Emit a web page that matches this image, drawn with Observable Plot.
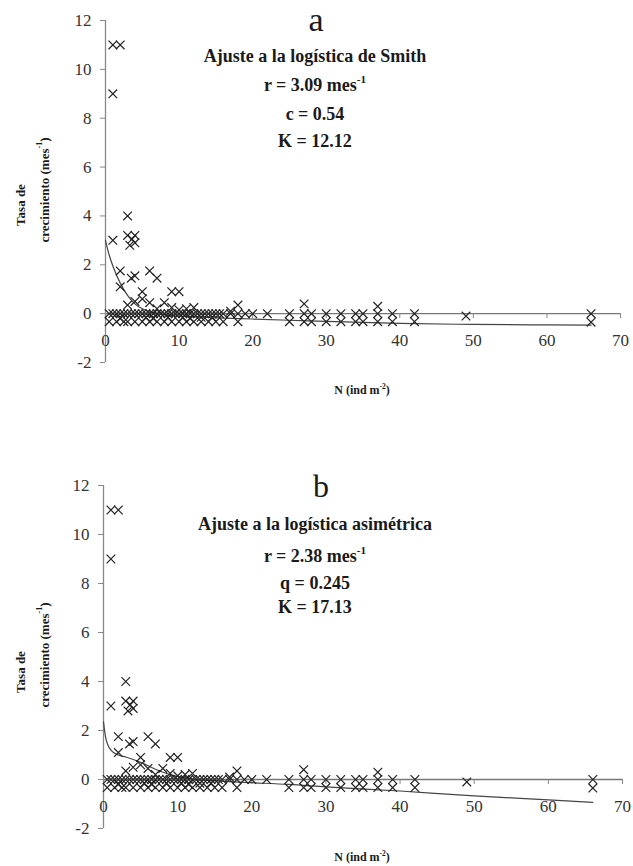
<!DOCTYPE html>
<html><head><meta charset="utf-8">
<script src="https://cdn.jsdelivr.net/npm/d3@7"></script>
<script src="https://cdn.jsdelivr.net/npm/@observablehq/plot@0.6"></script>
<style>
body{margin:0;background:#fff;width:633px;}
#chart svg{display:block;}
#chart svg text{font-family:"Liberation Serif","DejaVu Serif","Times New Roman",serif;}
</style>
</head><body><div id="chart"></div>
<script>
// Observed points: density N (ind m^-2) and growth rate (mes^-1)
const density = [
  1, 2, 1, 1, 3, 3, 4, 3.3, 4, 3.6,
  2, 2, 3.5, 4, 6, 7, 5, 9, 10,
  3, 4, 5, 6, 8, 9, 12, 10, 18, 17, 27, 37, 11, 7,
  0.5, 1, 1.5, 2, 2.5, 3, 3.5, 4, 4.5, 5, 5.5, 6, 6.5, 7, 7.5, 8, 8.5, 9, 9.5, 10, 10.5, 11, 11.5, 12, 12.5, 13, 13.5, 14, 14.5, 15, 15.5, 16, 17, 18, 19, 20, 22, 25, 27, 28, 30, 32, 34, 35, 37, 39, 42, 66,
  0.5, 1.5, 2.5, 3, 4, 5, 6, 7, 8, 9, 10, 11, 12, 13, 14, 15, 16, 18, 25, 27, 28, 30, 32, 34, 35, 37, 39, 42, 66,
  49, 5.5, 10.5, 13, 2, 6.5, 8.5, 11.5, 14.5
];
const rate = [
  11, 11, 9, 3, 4, 3.2, 3.2, 2.8, 2.9, 3.05,
  1.75, 1.1, 1.45, 1.55, 1.75, 1.45, 0.9, 0.9, 0.9,
  0.35, 0.5, 0.6, 0.45, 0.45, 0.25, 0.25, 0.15, 0.35, 0.1, 0.4, 0.3, 0.2, 0.2,
  0, 0, 0, 0, 0, 0, 0, 0, 0, 0, 0, 0, 0, 0, 0, 0, 0, 0, 0, 0, 0, 0, 0, 0, 0, 0, 0, 0, 0, 0, 0, 0, 0, 0, 0, 0, 0, 0, 0, 0, 0, 0, 0, 0, 0, 0, 0, 0,
  -0.33, -0.33, -0.33, -0.33, -0.33, -0.33, -0.33, -0.33, -0.33, -0.33, -0.33, -0.33, -0.33, -0.33, -0.33, -0.33, -0.33, -0.33, -0.33, -0.33, -0.33, -0.33, -0.33, -0.33, -0.33, -0.33, -0.33, -0.33, -0.35,
  -0.1, -0.15, -0.15, -0.15, -0.2, -0.2, -0.15, -0.2, -0.15
];

// Fitted curve a: Smith logistic
const fitA_N = [0, 0.5, 1, 2, 3, 4, 5, 6, 8, 10, 15, 20, 25, 30, 40, 50, 60, 66];
const fitA_R = [3.0, 2.4, 1.95, 1.25, 0.75, 0.4, 0.2, 0.07, -0.05, -0.1, -0.17, -0.22, -0.27, -0.32, -0.4, -0.44, -0.46, -0.47];

// Fitted curve b: asymmetric logistic
const fitB_N = [0, 0.3, 1, 2, 3, 5, 7, 9, 12, 15, 20, 25, 30, 40, 50, 60, 66];
const fitB_R = [2.35, 1.7, 1.2, 1.0, 0.92, 0.7, 0.42, 0.2, 0.02, -0.06, -0.13, -0.2, -0.3, -0.47, -0.67, -0.83, -0.93];

const xTicks = [0, 10, 20, 30, 40, 50, 60, 70];
const yTicks = [-2, 0, 2, 4, 6, 8, 10, 12];

function addText(svg, x, y, parts, opts = {}) {
  const size = opts.size || 16;
  const t = d3.select(svg).append("text")
    .attr("x", x).attr("y", y)
    .attr("text-anchor", opts.anchor || "middle")
    .attr("font-size", size)
    .attr("font-weight", opts.weight || "bold")
    .attr("fill", opts.fill || "#1a1a1a");
  if (opts.rotate) t.attr("transform", `rotate(-90 ${x} ${y})`).attr("dominant-baseline", "middle");
  let shifted = false;
  parts.forEach(p => {
    const s = t.append("tspan").text(p.t);
    if (p.sup) { s.attr("font-size", size * 0.62).attr("dy", -size * 0.45); shifted = true; }
    else if (shifted) { s.attr("dy", size * 0.45); shifted = false; }
  });
}

function panel(cfg) {
  const pts = density.map((n, i) => ({n, r: rate[i]}));
  const fit = cfg.fitN.map((n, i) => ({n, r: cfg.fitR[i]}));
  return Plot.plot({
    width: 633, height: 433,
    marginLeft: cfg.ml, marginRight: cfg.mr, marginTop: cfg.mt, marginBottom: cfg.mb,
    style: {background: "#fff", color: "#333", overflow: "visible"},
    x: {domain: [0, 70], axis: null},
    y: {domain: [-2, 12], axis: null},
    marks: [
      Plot.axisY(yTicks, {tickSize: 5, tickPadding: 9, fontSize: 17, stroke: "#888", fill: "#333", label: null, tickFormat: d => String(d)}),
      Plot.ruleX([0], {y1: -2, y2: 12, stroke: "#888", strokeWidth: 1.3}),
      Plot.ruleY([0], {stroke: "#777", strokeWidth: 1.3}),
      Plot.ruleX(xTicks, {x: d => d, y1: 0, y2: 0, insetBottom: -5, stroke: "#888"}),
      Plot.text(xTicks, {x: d => d, y: 0, dy: 27, text: d => String(d), fontSize: 17, fill: "#333"}),
      Plot.line(fit, {x: "n", y: "r", stroke: "#444", strokeWidth: 1.2, curve: "monotone-x"}),
      Plot.dot(pts, {x: "n", y: "r", symbol: "times", r: 4, stroke: "#222", strokeWidth: 1.2})
    ]
  });
}

const root = document.getElementById("chart");

// Panel a
const svgA = panel({fitN: fitA_N, fitR: fitA_R, ml: 105, mr: 13, mt: 20, mb: 71});
addText(svgA, 316, 31, [{t: "a"}], {size: 34, weight: "normal"});
addText(svgA, 315, 62, [{t: "Ajuste a la logística de Smith"}], {size: 18});
addText(svgA, 315, 91, [{t: "r = 3.09 mes"}, {t: "-1", sup: true}], {size: 18});
addText(svgA, 315, 120, [{t: "c = 0.54"}], {size: 18});
addText(svgA, 315, 147, [{t: "K = 12.12"}], {size: 18});
addText(svgA, 22, 205, [{t: "Tasa de"}], {size: 13, rotate: true});
addText(svgA, 46, 190, [{t: "crecimiento (mes"}, {t: "-1", sup: true}, {t: ")"}], {size: 13, rotate: true});
addText(svgA, 362, 394, [{t: "N (ind m"}, {t: "-2", sup: true}, {t: ")"}], {size: 12});
root.appendChild(svgA);

// Panel b
const svgB = panel({fitN: fitB_N, fitR: fitB_R, ml: 103, mr: 11, mt: 52, mb: 38});
addText(svgB, 321, 64, [{t: "b"}], {size: 32, weight: "normal"});
addText(svgB, 315, 97, [{t: "Ajuste a la logística asimétrica"}], {size: 18});
addText(svgB, 315, 129, [{t: "r = 2.38 mes"}, {t: "-1", sup: true}], {size: 18});
addText(svgB, 315, 156, [{t: "q = 0.245"}], {size: 18});
addText(svgB, 315, 180, [{t: "K = 17.13"}], {size: 18});
addText(svgB, 22, 239, [{t: "Tasa de"}], {size: 13, rotate: true});
addText(svgB, 46, 222, [{t: "crecimiento (mes"}, {t: "-1", sup: true}, {t: ")"}], {size: 13, rotate: true});
addText(svgB, 362, 428, [{t: "N (ind m"}, {t: "-2", sup: true}, {t: ")"}], {size: 12});
root.appendChild(svgB);
</script>
</body></html>
